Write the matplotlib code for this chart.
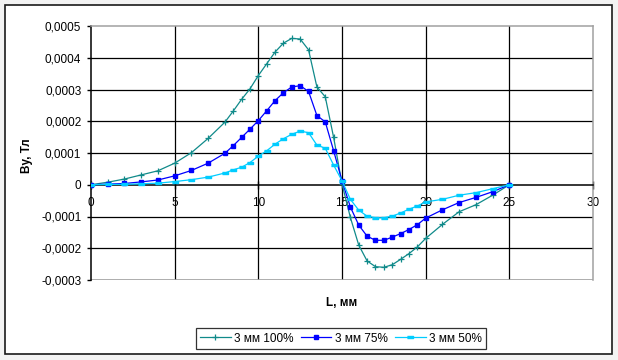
import matplotlib
matplotlib.use("Agg")
import matplotlib.pyplot as plt
from matplotlib.patches import Rectangle
from matplotlib.ticker import FuncFormatter

plt.rcParams['font.family'] = ['Liberation Sans', 'DejaVu Sans']

# расстояние L, мм
L = [0, 1, 2, 3, 4, 5, 6, 7, 8, 8.5, 9, 9.5, 10, 10.5, 11, 11.5, 12, 12.5,
     13, 13.5, 14, 14.5, 15, 15.5, 16, 16.5, 17, 17.5, 18, 18.5, 19, 19.5,
     20, 21, 22, 23, 24, 25]

# By, Тл
by_100 = [0, 0.000008, 0.000018, 0.000031, 0.000044, 0.000068, 0.000101,
          0.000146, 0.000197, 0.000232, 0.000269, 0.000302, 0.000344,
          0.000381, 0.000418, 0.000446, 0.000461, 0.000459, 0.000425,
          0.000308, 0.000277, 0.000149, 0.000003, -0.000103, -0.00019,
          -0.00024, -0.000258, -0.00026, -0.000252, -0.000235, -0.000217,
          -0.000196, -0.000169, -0.000125, -0.000085, -0.000063, -0.000033, 0]
by_75 = [0, 0.000002, 0.000004, 0.000009, 0.000015, 0.000028, 0.000045,
         0.000068, 0.000099, 0.000123, 0.000149, 0.000175, 0.000202,
         0.000233, 0.000265, 0.00029, 0.000308, 0.000312, 0.000294,
         0.000218, 0.000198, 0.000107, 0.0000125, -0.00007, -0.000127,
         -0.000162, -0.000175, -0.000175, -0.000165, -0.000154, -0.000141,
         -0.000126, -0.000105, -0.000079, -0.000056, -0.00004, -0.000022, 0]
by_50 = [0, 0.000001, 0.000001, 0.000003, 0.000005, 0.00001, 0.000016,
         0.000024, 0.000037, 0.000047, 0.000055, 0.00007, 0.00009,
         0.000107, 0.000128, 0.000145, 0.000159, 0.000169, 0.000164,
         0.000125, 0.000115, 0.000062, 0.0000125, -0.000046, -0.00008,
         -0.000099, -0.000104, -0.000104, -0.000099, -0.000089, -0.000077,
         -0.000067, -0.000054, -0.000046, -0.000033, -0.000025, -0.0000125, 0]

labels = ['3 мм 100%', '3 мм 75%', '3 мм 50%']

x_ticks = [0, 5, 10, 15, 20, 25, 30]
y_ticks = [-0.0003, -0.0002, -0.0001, 0, 0.0001, 0.0002, 0.0003, 0.0004, 0.0005]

fig = plt.figure(figsize=(6.18, 3.6), dpi=100, facecolor='#f3f3f3')
fig.patches.append(Rectangle((5 / 618, 1 - 354 / 360), 607 / 618, 349 / 360,
                             transform=fig.transFigure, facecolor='white',
                             edgecolor='#1a1a1a', linewidth=1.2, zorder=-10))

ax = fig.add_axes([91 / 618, 1 - 280 / 360, 502 / 618, 254 / 360])
ax.set_facecolor('white')

# сетка
for v in y_ticks[1:-1]:
    if v != 0:
        ax.axhline(v, color='black', linewidth=0.9, zorder=1)
for v in x_ticks[1:-1]:
    ax.axvline(v, color='black', linewidth=0.9, zorder=1)
ax.axhline(-0.0003, color='#a0a0a0', linewidth=1.2, zorder=1)

rect = [(-1.4, -0.6), (1.4, -0.6), (1.4, 0.6), (-1.4, 0.6)]

ax.plot(L, by_100, color='#108a8a', linewidth=0.9, marker='+',
        markersize=5, markeredgewidth=0.9, label=labels[0], zorder=3)
ax.plot(L, by_75, color='#0000ff', linewidth=0.9, marker='s',
        markersize=3, label=labels[1], zorder=4)
ax.plot(L, by_50, color='#00ccff', linewidth=0.9, marker=rect,
        markersize=5, label=labels[2], zorder=5)

ax.set_xlim(0, 30)
ax.set_ylim(-0.0003, 0.0005)
ax.set_xticks(x_ticks)
ax.set_yticks(y_ticks)

def fmt(v, pos):
    if abs(v) < 1e-12:
        return '0'
    return ('%.4f' % v).replace('.', ',')

ax.yaxis.set_major_formatter(FuncFormatter(fmt))

ax.spines['bottom'].set_position(('data', 0))
ax.spines['bottom'].set_color('black')
ax.spines['left'].set_color('black')
ax.spines['top'].set_color('#a0a0a0')
ax.spines['right'].set_color('#a0a0a0')
for s in ax.spines.values():
    s.set_linewidth(1.1)
    s.set_zorder(2)

ax.tick_params(axis='x', direction='inout', length=6, width=1, pad=6,
               labelsize=8.5, colors='black')
ax.tick_params(axis='y', direction='out', length=3, width=1, pad=4,
               labelsize=8.5, colors='black')

fig.text(27 / 618, 1 - 156 / 360, 'By, Тл', rotation=90, ha='center',
         va='center', fontsize=8.5, fontweight='bold')
fig.text(342 / 618, 1 - 303 / 360, 'L, мм', ha='center', va='center',
         fontsize=8.5, fontweight='bold')

leg = fig.legend(loc='center', bbox_to_anchor=(341 / 618, 1 - 338.5 / 360),
                 ncol=3, fontsize=8.5, frameon=True, fancybox=False,
                 handlelength=2.6, handletextpad=0.3, columnspacing=0.6,
                 borderpad=0.35)
leg.get_frame().set_edgecolor('black')
leg.get_frame().set_linewidth(0.9)

fig.savefig('out.png', dpi=100, facecolor=fig.get_facecolor())
